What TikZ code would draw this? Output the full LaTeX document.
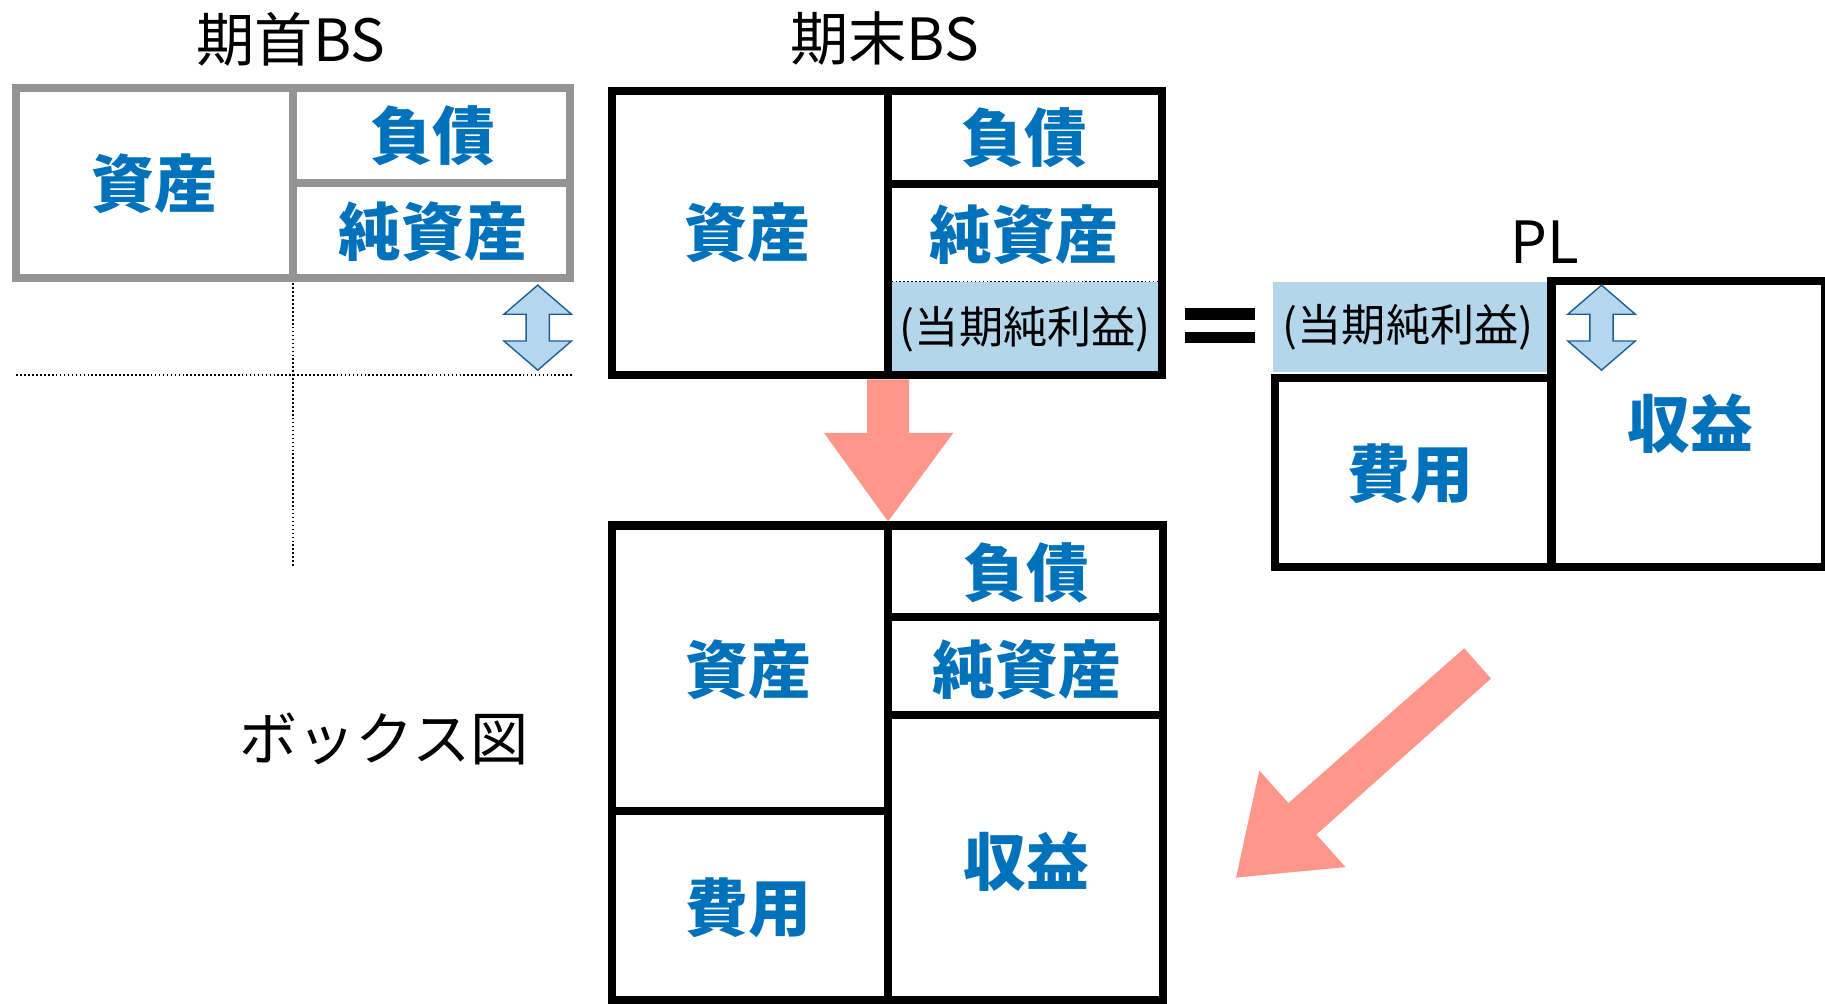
\documentclass[tikz,border=0pt]{standalone}
\usepackage{fontspec}
\newfontfamily\jp{Noto Sans CJK JP}
\definecolor{lblblue}{RGB}{0,113,187}
\definecolor{npfill}{RGB}{180,214,234}
\definecolor{arrfill}{RGB}{180,215,240}
\definecolor{arredge}{RGB}{30,95,145}
\definecolor{salmon}{RGB}{255,150,140}
\definecolor{boxgray}{RGB}{148,148,148}
\begin{document}
\begin{tikzpicture}[x=1pt,y=-1pt,
  lbl/.style={font=\jp\bfseries\fontsize{54}{60}\selectfont, text=lblblue, inner sep=0pt},
  ttl/.style={font=\jp\fontsize{50}{56}\selectfont, inner sep=0pt},
  nplbl/.style={font=\jp\fontsize{38}{44}\selectfont, inner sep=0pt},
  boxline/.style={line width=7pt, line join=miter, line cap=rect},
  grayline/.style={boxline, draw=boxgray},
  dotline/.style={line width=1.4pt, dotted},
  dblarrow/.style={fill=arrfill, draw=arredge, line width=1.2pt, line join=miter},
  bigarrow/.style={fill=salmon, draw=none}]
\useasboundingbox (0,0) rectangle (1568,862);
\fill[white] (0,0) rectangle (1568,862);
\clip (0,0) rectangle (1568,862);

% ---------- 期首BS ----------
\node[ttl] (t1) at (250,34) {期首BS};
\draw[dotline] (252,240) -- (252,487);
\draw[dotline] (14,322) -- (492,322);
\draw[grayline] (13.5,75.5) rectangle (490,239);
\draw[grayline] (252,75.5) -- (252,239);
\draw[grayline] (252,157) -- (490,157);
\node[lbl] (g1) at (133,158) {資産};
\node[lbl] (g2) at (372,117) {負債};
\node[lbl] (g3) at (372,199) {純資産};
% double arrow
\draw[dblarrow] (462,245) -- (491,270) -- (472,270) -- (472,293) -- (491,293) -- (462,318)
  -- (433,293) -- (452,293) -- (452,270) -- (433,270) -- cycle;

% ---------- 期末BS ----------
\node[ttl] (t2) at (760,33) {期末BS};
\fill[npfill] (766,242) rectangle (997,321);
\draw[dotline, line width=1.2pt] (766,242) -- (997,242);
\draw[boxline] (525.5,78.5) rectangle (998,322);
\draw[boxline] (763,78.5) -- (763,322);
\draw[boxline] (763,158) -- (998,158);
\node[lbl] (e1) at (642,200) {資産};
\node[lbl] (e2) at (880,118) {負債};
\node[lbl] (e3) at (880,202) {純資産};
\node[nplbl] (e4) at (881,283) {(当期純利益)};

% equals sign
\fill (1018,265) rectangle (1078,275);
\fill (1018,285) rectangle (1078,295);

% ---------- PL ----------
\node[ttl] (t3) at (1327,208) {PL};
\fill[npfill] (1094,242) rectangle (1330,320);
\node[nplbl] (p0) at (1210,281) {(当期純利益)};
\draw[boxline] (1095.5,325) rectangle (1333,487);
\draw[boxline] (1333,241.5) rectangle (1568,487);
\node[lbl] (p1) at (1212,407) {費用};
\node[lbl] (p2) at (1452,364) {収益};
\draw[dblarrow] (1376,245) -- (1405,270) -- (1386,270) -- (1386,293) -- (1405,293) -- (1376,318)
  -- (1347,293) -- (1366,293) -- (1366,270) -- (1347,270) -- cycle;

% ---------- down arrow ----------
\fill[bigarrow] (745,326) -- (781,326) -- (781,372) -- (819,372) -- (763,448)
  -- (708,372) -- (745,372) -- cycle;

% ---------- ボックス図 ----------
\draw[boxline] (525.5,451.5) rectangle (999.5,859);
\draw[boxline] (763,451.5) -- (763,859);
\draw[boxline] (525.5,697) -- (763,697);
\draw[boxline] (763,530) -- (999.5,530);
\draw[boxline] (763,614) -- (999.5,614);
\node[lbl] (b1) at (643,575) {資産};
\node[lbl] (b2) at (882,492) {負債};
\node[lbl] (b3) at (882,575) {純資産};
\node[lbl] (b4) at (643,780) {費用};
\node[lbl] (b5) at (882,740) {収益};
\node[ttl] (t4) at (330,635) {ボックス図};

% ---------- diagonal arrow ----------
\fill[bigarrow] (1258,557) -- (1281,583) -- (1131,717) -- (1156,745) -- (1062,754)
  -- (1082,662) -- (1107,690) -- cycle;
\end{tikzpicture}
\end{document}
